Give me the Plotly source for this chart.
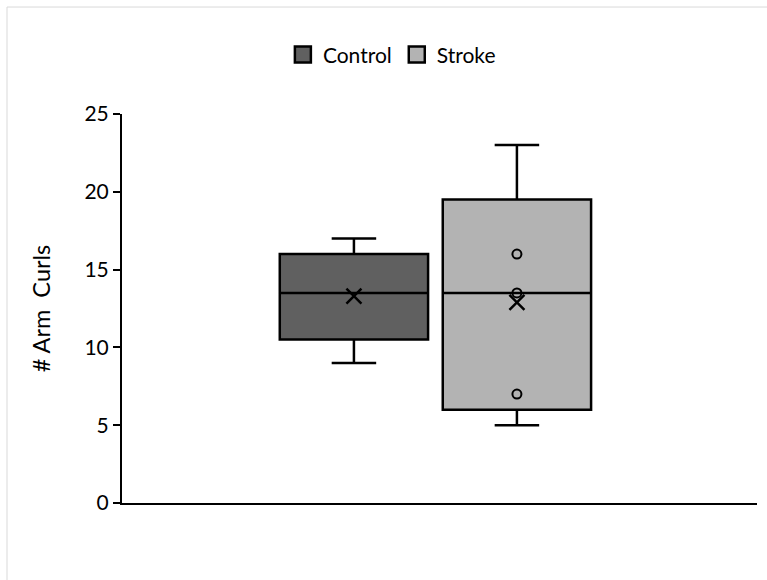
import plotly.graph_objects as go

groups = ["Control", "Stroke"]
q1 = [10.5, 6.0]
median = [13.5, 13.5]
q3 = [16.0, 19.5]
lower = [9.0, 5.0]
upper = [17.0, 23.0]
means = [13.3, 12.9]
inner_points = [[], [16.0, 13.5, 7.0]]
fills = ["#606060", "#b3b3b3"]
y_ticks = [0, 5, 10, 15, 20, 25]

FONT = "Lato, 'Open Sans', sans-serif"

fig = go.Figure()
for i, g in enumerate(groups):
    fig.add_trace(go.Box(
        name=g, x=[g], q1=[q1[i]], median=[median[i]], q3=[q3[i]],
        lowerfence=[lower[i]], upperfence=[upper[i]],
        fillcolor=fills[i], line=dict(color="black", width=2.5),
        whiskerwidth=0.3, width=0.91, boxpoints=False, showlegend=False,
        hoverinfo="skip",
    ))
# legend entries (square swatches)
for i, g in enumerate(groups):
    fig.add_trace(go.Scatter(
        name=g, x=[None], y=[None], mode="markers",
        marker=dict(symbol="square", size=16, color=fills[i],
                    line=dict(width=2.5, color="black")),
        showlegend=True, hoverinfo="skip",
    ))
for i, g in enumerate(groups):
    if inner_points[i]:
        fig.add_trace(go.Scatter(
            x=[g] * len(inner_points[i]), y=inner_points[i], mode="markers",
            marker=dict(symbol="circle-open", size=9, color="black",
                        line=dict(width=2, color="black")),
            showlegend=False, hoverinfo="skip",
        ))
fig.add_trace(go.Scatter(
    x=groups, y=means, mode="markers",
    marker=dict(symbol="x-thin", size=15, color="black",
                line=dict(width=2.5, color="black")),
    showlegend=False, hoverinfo="skip",
))

# light frame around chart area
fig.add_shape(type="rect", xref="paper", yref="paper",
              x0=-0.1811, x1=1.03, y0=-0.22, y1=1.275,
              line=dict(color="#d9d9d9", width=1), fillcolor="rgba(0,0,0,0)",
              layer="below")

fig.update_layout(
    width=767, height=580,
    margin=dict(l=122, r=10, t=114, b=77),
    paper_bgcolor="white", plot_bgcolor="white",
    font=dict(family=FONT, size=20, color="black"),
    showlegend=True,
    legend=dict(orientation="h", x=0.425, xanchor="center", y=1.152,
                yanchor="middle", font=dict(size=21), itemsizing="trace",
                itemwidth=30, tracegroupgap=0),
    xaxis=dict(type="category", categoryorder="array", categoryarray=groups,
               range=[-1.423, 2.473], showline=True, linecolor="black",
               linewidth=2, showticklabels=False, ticks="", showgrid=False,
               zeroline=False, fixedrange=True),
    yaxis=dict(range=[0, 25], tickvals=y_ticks, showline=True,
               linecolor="black", linewidth=2, ticks="outside", ticklen=7,
               tickwidth=2, tickcolor="black", showgrid=False, zeroline=False,
               title=dict(text="# Arm  Curls", font=dict(size=23.5), standoff=27),
               tickfont=dict(size=21)),
)

fig.write_html("out.html")
